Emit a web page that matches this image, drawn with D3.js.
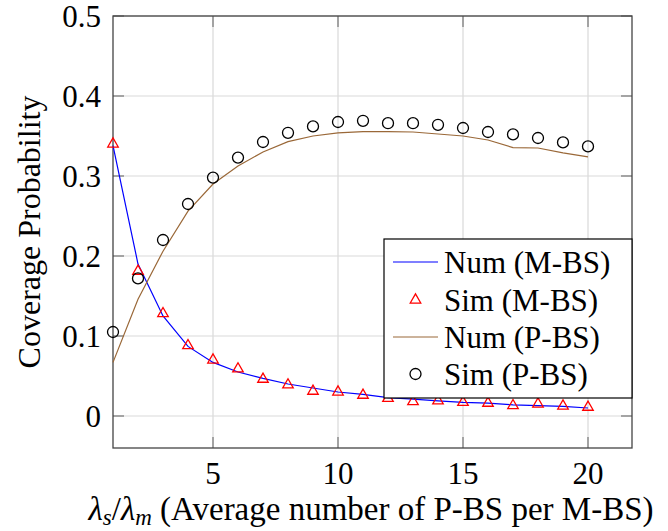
<!DOCTYPE html>
<html>
<head>
<meta charset="utf-8">
<script src="https://cdn.jsdelivr.net/npm/d3@7"></script>
<style>
 body { margin: 0; background: #fff; }
</style>
</head>
<body>
<div class="chart"></div>
<script>
// data
var xs = [1, 2, 3, 4, 5, 6, 7, 8, 9, 10, 11, 12, 13, 14, 15, 16, 17, 18, 19, 20];
var numMBS = [0.338, 0.190, 0.125, 0.087, 0.067, 0.055, 0.047, 0.040, 0.035, 0.030, 0.027, 0.023, 0.021, 0.019, 0.017, 0.016, 0.014, 0.013, 0.012, 0.010];
var simMBS = [0.340, 0.181, 0.128, 0.088, 0.070, 0.059, 0.046, 0.039, 0.031, 0.030, 0.026, 0.022, 0.018, 0.019, 0.017, 0.016, 0.013, 0.015, 0.0125, 0.011];
var numPBS = [0.067, 0.146, 0.206, 0.256, 0.290, 0.3125, 0.330, 0.343, 0.350, 0.354, 0.3555, 0.3555, 0.355, 0.3525, 0.350, 0.345, 0.3355, 0.335, 0.329, 0.324];
var simPBS = [0.105, 0.172, 0.220, 0.265, 0.298, 0.323, 0.3425, 0.354, 0.362, 0.3675, 0.369, 0.366, 0.366, 0.364, 0.360, 0.355, 0.352, 0.3475, 0.342, 0.337];
var xTicks = [5, 10, 15, 20];
var yTicks = [0, 0.1, 0.2, 0.3, 0.4, 0.5];
var yTickLabels = ["0", "0.1", "0.2", "0.3", "0.4", "0.5"];
var legendNames = ["Num (M-BS)", "Sim (M-BS)", "Num (P-BS)", "Sim (P-BS)"];

(function(){
 var w = 668, h = 531;
 var pl = 113, pt = 16, pr = 632, pb = 448;
 var fs = 31;
 var blue = "#0000ff", brown = "#9a6838", red = "#ff0000";

 var svg = d3.select(".chart").append("svg").attr("width", w).attr("height", h)
   .attr("font-family", "'Liberation Serif', Tinos, 'DejaVu Serif', 'Noto Serif', serif");

 var x = d3.scaleLinear().domain([1, 21.76]).range([pl, pr]);
 var y = d3.scaleLinear().domain([-0.04, 0.5]).range([pb, pt]);

 // grid
 var grid = svg.append("g").attr("stroke", "#d9d9d9").attr("stroke-width", 1.2);
 xTicks.forEach(function(t){
   grid.append("line").attr("x1", x(t)).attr("x2", x(t)).attr("y1", pt).attr("y2", pb);
 });
 yTicks.forEach(function(t){
   grid.append("line").attr("x1", pl).attr("x2", pr).attr("y1", y(t)).attr("y2", y(t));
 });

 // tick marks, inside, on all four sides
 var tk = svg.append("g").attr("stroke", "#8c8c8c").attr("stroke-width", 1.5);
 var tl = 11;
 xTicks.forEach(function(t){
   tk.append("line").attr("x1", x(t)).attr("x2", x(t)).attr("y1", pb).attr("y2", pb - tl);
   tk.append("line").attr("x1", x(t)).attr("x2", x(t)).attr("y1", pt).attr("y2", pt + tl);
 });
 yTicks.forEach(function(t){
   tk.append("line").attr("x1", pl).attr("x2", pl + tl).attr("y1", y(t)).attr("y2", y(t));
   tk.append("line").attr("x1", pr).attr("x2", pr - tl).attr("y1", y(t)).attr("y2", y(t));
 });

 // frame
 svg.append("rect").attr("x", pl).attr("y", pt)
   .attr("width", pr - pl).attr("height", pb - pt)
   .attr("fill", "none").attr("stroke", "#444").attr("stroke-width", 1.3);

 // tick labels
 svg.selectAll(".xl").data(xTicks).enter().append("text")
   .attr("class", "xl")
   .attr("x", function(d){ return x(d); })
   .attr("y", 484)
   .attr("text-anchor", "middle")
   .attr("font-size", fs)
   .text(function(d){ return d; });

 svg.selectAll(".yl").data(yTicks).enter().append("text")
   .attr("class", "yl")
   .attr("x", 101)
   .attr("y", function(d){ return y(d) + 11; })
   .attr("text-anchor", "end")
   .attr("font-size", fs)
   .text(function(d, i){ return yTickLabels[i]; });

 // axis labels
 svg.append("text")
   .attr("transform", "translate(40,232) rotate(-90)")
   .attr("text-anchor", "middle")
   .attr("font-size", 32)
   .text("Coverage Probability");

 var xlab = svg.append("text").attr("x", 371).attr("y", 520)
   .attr("text-anchor", "middle").attr("font-size", 33);
 xlab.append("tspan").attr("font-style", "italic").text("λ");
 xlab.append("tspan").attr("font-style", "italic").attr("font-size", 23).attr("dy", 5).text("s");
 xlab.append("tspan").attr("dy", -5).text("/");
 xlab.append("tspan").attr("font-style", "italic").text("λ");
 xlab.append("tspan").attr("font-style", "italic").attr("font-size", 23).attr("dy", 5).text("m");
 xlab.append("tspan").attr("dy", -5).text(" (Average number of P-BS per M-BS)");

 // series
 var line = d3.line()
   .x(function(d, i){ return x(xs[i]); })
   .y(function(d){ return y(d); });

 svg.append("path").datum(numMBS).attr("d", line)
   .attr("fill", "none").attr("stroke", blue).attr("stroke-width", 1.2);

 var tri = d3.symbol().type(d3.symbolTriangle).size(48);
 svg.selectAll(".tri").data(simMBS).enter().append("path")
   .attr("class", "tri")
   .attr("d", tri)
   .attr("transform", function(d, i){ return "translate(" + x(xs[i]) + "," + y(d) + ")"; })
   .attr("fill", "none").attr("stroke", red).attr("stroke-width", 1.3);

 svg.append("path").datum(numPBS).attr("d", line)
   .attr("fill", "none").attr("stroke", brown).attr("stroke-width", 1.2);

 svg.selectAll(".circ").data(simPBS).enter().append("circle")
   .attr("class", "circ")
   .attr("cx", function(d, i){ return x(xs[i]); })
   .attr("cy", function(d){ return y(d); })
   .attr("r", 5.5)
   .attr("fill", "none").attr("stroke", "#000").attr("stroke-width", 1.3);

 // legend
 var lg = svg.append("g");
 lg.append("rect").attr("x", 384).attr("y", 239).attr("width", 248).attr("height", 159)
   .attr("fill", "#fff").attr("stroke", "#000").attr("stroke-width", 1.2);
 var rowY = [262, 300, 337, 374];
 legendNames.forEach(function(name, i){
   var ry = rowY[i];
   if (i == 0 || i == 2) {
     lg.append("line").attr("x1", 393).attr("x2", 438).attr("y1", ry).attr("y2", ry)
       .attr("stroke", i == 0 ? blue : brown).attr("stroke-width", 1.2);
   } else if (i == 1) {
     lg.append("path").attr("d", tri).attr("transform", "translate(415.5," + ry + ")")
       .attr("fill", "none").attr("stroke", red).attr("stroke-width", 1.3);
   } else {
     lg.append("circle").attr("cx", 415.5).attr("cy", ry).attr("r", 5.5)
       .attr("fill", "none").attr("stroke", "#000").attr("stroke-width", 1.3);
   }
   lg.append("text").attr("x", 444).attr("y", ry + 11).attr("font-size", fs).text(name);
 });
})();
</script>
</body>
</html>
